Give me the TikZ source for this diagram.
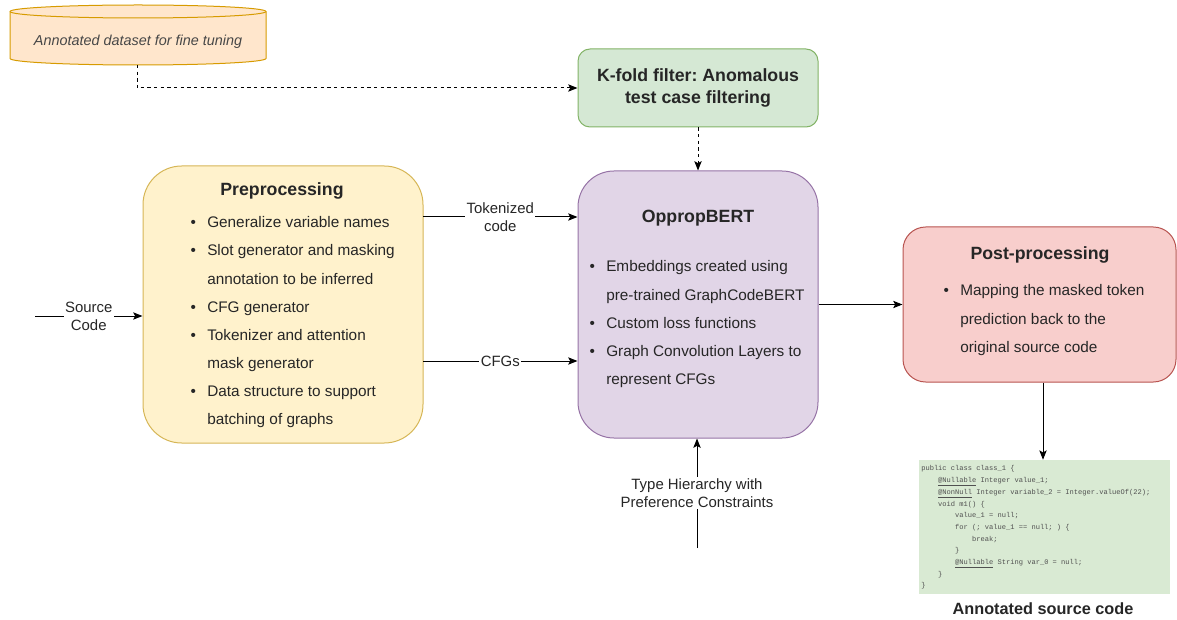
\documentclass[tikz,border=0pt]{standalone}
\usepackage{fontspec}
\setmainfont{Liberation Sans}
\newfontfamily\codefont{Liberation Mono}
\usetikzlibrary{arrows.meta,calc}
\frenchspacing

\definecolor{txt}{HTML}{262626}
\definecolor{orgfill}{HTML}{FFE6CC}\definecolor{orgline}{HTML}{D79B00}
\definecolor{grnfill}{HTML}{D5E8D4}\definecolor{grnline}{HTML}{82B366}
\definecolor{ylwfill}{HTML}{FFF2CC}\definecolor{ylwline}{HTML}{D6B656}
\definecolor{prpfill}{HTML}{E1D5E7}\definecolor{prpline}{HTML}{9673A6}
\definecolor{redfill}{HTML}{F8CECC}\definecolor{redline}{HTML}{B85450}
\definecolor{codefill}{HTML}{D9EAD3}
\definecolor{codetext}{HTML}{505050}

\newcommand\itembul{\llap{\textbullet\hspace{8.5pt}}}
\newcommand\codetab{\hphantom{xxxx}}

\tikzset{
  box/.style={draw, line width=0.75pt, inner sep=0pt},
  bodytext/.style={font=\fontsize{11.5}{21}\selectfont, text=txt, inner sep=0pt, anchor=base west},
  titletext/.style={font=\fontsize{13.3}{16}\selectfont\bfseries, text=txt, inner sep=0pt, anchor=base},
  edgelabel/.style={font=\fontsize{11.2}{13.5}\selectfont, text=txt, fill=white, inner sep=1pt, align=center},
  link/.style={line width=0.75pt, -{Stealth[length=7pt,width=5.5pt,inset=1.5pt]}},
  dashlink/.style={link, dash pattern=on 2.5pt off 2.5pt},
}

\begin{document}
\begin{tikzpicture}[x=0.75pt, y=-0.75pt]
\useasboundingbox (0,0) rectangle (1177,620);

% dataset store (cylinder)
\filldraw[fill=orgfill, draw=orgline, line width=0.75pt]
  (10,11.5) -- (10,58.5) arc[start angle=180, end angle=0, x radius=128, y radius=6.5]
  -- (266,11.5) arc[start angle=0, end angle=-180, x radius=128, y radius=6.5] -- cycle;
\draw[orgline, line width=0.75pt] (10,11.5) arc[start angle=180, end angle=0, x radius=128, y radius=6.5];
\node[font=\fontsize{10.8}{13}\selectfont\itshape, text=txt!85, inner sep=0pt] (ds) at (138,42) {Annotated dataset for fine tuning};
\coordinate (dsbot) at (137,65);

% main boxes
\node[box, fill=grnfill, draw=grnline, rounded corners=9pt, minimum width=180pt, minimum height=58.5pt,
      font=\fontsize{13.3}{16}\selectfont\bfseries, text=txt, align=center] (kf) at (698,88)
      {K-fold filter: Anomalous\\test case filtering};
\node[box, fill=ylwfill, draw=ylwline, rounded corners=29pt, minimum width=210pt, minimum height=207.75pt] (pre) at (283,304.5) {};
\node[box, fill=prpfill, draw=prpline, rounded corners=27pt, minimum width=180pt, minimum height=200.25pt] (bert) at (698,304.5) {};
\node[box, fill=redfill, draw=redline, rounded corners=17pt, minimum width=204.75pt, minimum height=116.25pt] (post) at (1039.5,304.5) {};
\node[fill=codefill, inner sep=0pt, minimum width=188.25pt, minimum height=100.5pt] (code) at (1044.5,527) {};

% preprocessing contents
\node[titletext] (pretitle) at (282,196) {Preprocessing};
\foreach \t [count=\i] in {
  \itembul Generalize variable names,
  \itembul Slot generator and masking,
  annotation to be inferred,
  \itembul CFG generator,
  \itembul Tokenizer and attention,
  mask generator,
  \itembul Data structure to support,
  batching of graphs}
  \node[bodytext] (pre-\i) at (207,{228+28*(\i-1)}) {\t};

% model contents
\node[titletext] (berttitle) at (698,223) {OppropBERT};
\foreach \t [count=\i] in {
  \itembul Embeddings created using,
  pre-trained GraphCodeBERT,
  \itembul Custom loss functions,
  \itembul Graph Convolution Layers to,
  represent CFGs}
  \node[bodytext] (bert-\i) at (606,{272+28*(\i-1)}) {\t};

% post-processing contents
\node[titletext] (posttitle) at (1040,259) {Post-processing};
\foreach \t [count=\i] in {
  \itembul Mapping the masked token,
  prediction back to the,
  original source code}
  \node[bodytext] (post-\i) at (960,{296+28*(\i-1)}) {\t};

% annotated source listing
\node[anchor=north west, inner sep=0pt, align=left, text=codetext,
      font=\fontsize{5.3}{8.78}\codefont] (listing) at (921,465.5) {%
public class class\_1 \{\\
\codetab\underline{@Nullable} Integer value\_1;\\
\codetab\underline{@NonNull} Integer variable\_2 = Integer.valueOf(22);\\
\codetab void m1() \{\\
\codetab\codetab value\_1 = null;\\
\codetab\codetab for (; value\_1 == null; ) \{\\
\codetab\codetab\codetab break;\\
\codetab\codetab \}\\
\codetab\codetab\underline{@Nullable} String var\_0 = null;\\
\codetab \}\\
\}};
\node[font=\fontsize{12.2}{14}\selectfont\bfseries, text=txt, inner sep=0pt] (codecap) at (1043,609) {Annotated source code};

% connectors
\draw[dashlink] (dsbot) |- (kf.west);
\draw[dashlink] (kf.south) -- (bert.north);

\coordinate (srcin) at (35,316);
\draw[link] (srcin) -- node[edgelabel] (srclabel) {Source\\Code} (srcin -| pre.west);

\coordinate (tokout) at (423,217);
\draw[link] (tokout) -- node[edgelabel] (toklabel) {Tokenized\\code} (tokout -| bert.west);

\coordinate (cfgout) at (423,361);
\draw[link] (cfgout) -- node[edgelabel] (cfglabel) {CFGs} (cfgout -| bert.west);

\draw[link] (bert.east) -- (post.west);
\draw[link] (post.south -| code.north) ++(-1.5,0) coordinate (postout) -- (postout |- code.north);

\coordinate (typein) at (697,548);
\draw[link] (typein) -- node[edgelabel] (typelabel) {Type Hierarchy with\\Preference Constraints} (typein |- bert.south);
\end{tikzpicture}
\end{document}
